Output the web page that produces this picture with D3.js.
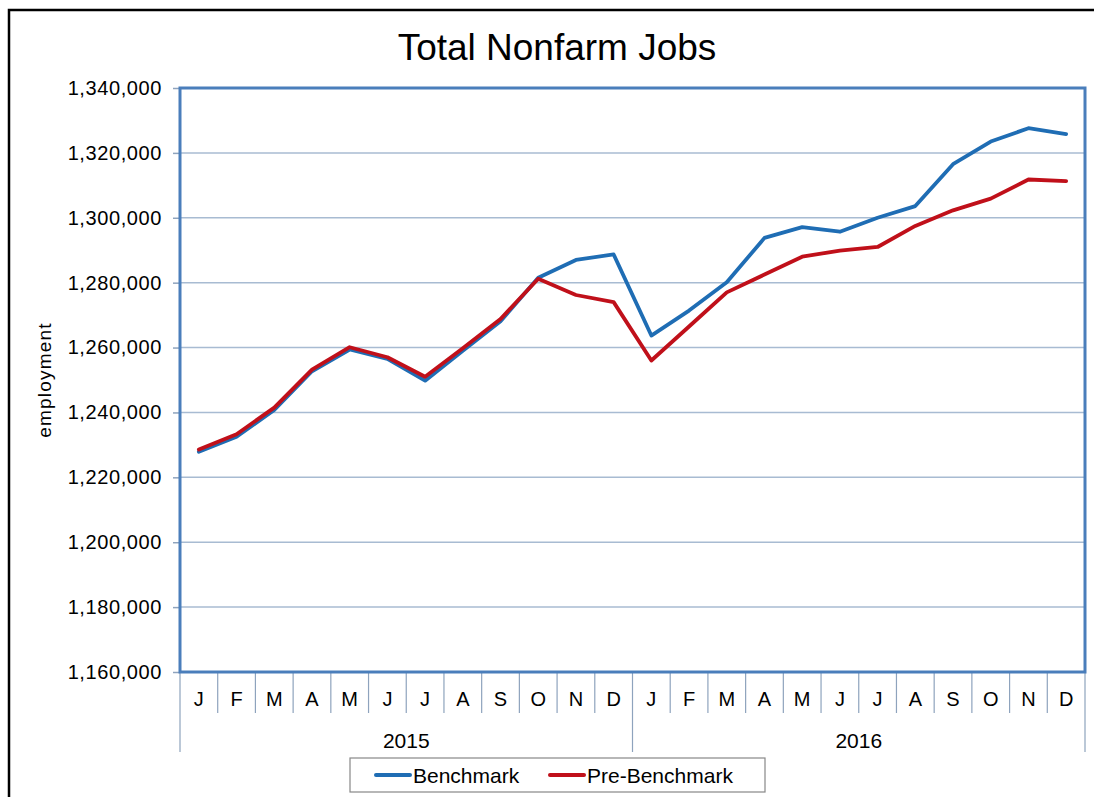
<!DOCTYPE html>
<html><head><meta charset="utf-8">
<script src="https://cdn.jsdelivr.net/npm/d3@7"></script>
<style>body{margin:0;background:#fff}svg{display:block}text{font-family:"Liberation Sans",Arial,sans-serif;fill:#000}</style>
</head><body><svg id="c" width="1094" height="797"></svg>
<script>
const months = ["J","F","M","A","M","J","J","A","S","O","N","D","J","F","M","A","M","J","J","A","S","O","N","D"];
const years = ["2015","2016"];
const benchmark = [1227900,1232500,1240800,1252700,1259400,1256500,1249800,1259000,1268100,1281500,1287000,1288700,
                   1263700,1271400,1280100,1293800,1297100,1295700,1300000,1303600,1316500,1323500,1327600,1325800];
const preBenchmark = [1228600,1233300,1241500,1253200,1260100,1257000,1251000,1259800,1268800,1281200,1276200,1274000,
                      1256000,1266500,1277000,1282500,1288000,1289900,1291000,1297500,1302300,1305900,1311800,1311300];
const yTicks = [1160000,1180000,1200000,1220000,1240000,1260000,1280000,1300000,1320000,1340000];
const seriesNames = ["Benchmark","Pre-Benchmark"];
const seriesColors = ["#1f6db4","#c0101a"];

const svg = d3.select("#c");
const L=180,R=1085,T=88,B=672;
const x = d3.scaleBand().domain(d3.range(months.length)).range([L,R]);
const y = d3.scaleLinear().domain([1160000,1340000]).range([B,T]);

// outer frame
svg.append("path").attr("d","M9,797 V10 H1094").attr("fill","none").attr("stroke","#000").attr("stroke-width",2.5);

// title
svg.append("text").attr("x",557).attr("y",60).attr("text-anchor","middle").attr("font-size",37).text("Total Nonfarm Jobs");

// gridlines
svg.append("g").selectAll("line").data(yTicks).join("line")
  .attr("x1",L).attr("x2",R).attr("y1",d=>y(d)).attr("y2",d=>y(d))
  .attr("stroke","#a8bbd2").attr("stroke-width",1.5);

// y axis
const yAxis = d3.axisLeft(y).tickValues(yTicks).tickFormat(d3.format(",")).tickSize(7).tickPadding(11);
const ya = svg.append("g").attr("transform",`translate(${L},0)`).call(yAxis);
ya.select(".domain").remove();
ya.selectAll(".tick line").attr("stroke","#8ea3bd").attr("stroke-width",1.5);
ya.selectAll(".tick text").attr("font-size",20).attr("letter-spacing","0.6px").attr("fill","#000")
  .style("font-family",'"Liberation Sans",Arial,sans-serif');

// y label
svg.append("text").attr("transform","translate(51,380) rotate(-90)").attr("text-anchor","middle")
  .attr("font-size",19).attr("letter-spacing","1.2px").text("employment");

// x axis months
const xa = svg.append("g");
xa.selectAll("text.m").data(months).join("text").attr("class","m")
  .attr("x",(d,i)=>x(i)+x.bandwidth()/2).attr("y",706).attr("text-anchor","middle")
  .attr("font-size",20).text(d=>d);
xa.selectAll("line.m").data(d3.range(1,months.length).filter(i=>i%12!==0)).join("line").attr("class","m")
  .attr("x1",i=>x(i)).attr("x2",i=>x(i)).attr("y1",B).attr("y2",713)
  .attr("stroke","#8ea3bd").attr("stroke-width",1.2);
const yb = [0,12,24];
xa.selectAll("line.y").data(yb).join("line").attr("class","y")
  .attr("x1",i=>i<24?x(i):R).attr("x2",i=>i<24?x(i):R).attr("y1",B).attr("y2",752)
  .attr("stroke","#8ea3bd").attr("stroke-width",1.2);
xa.selectAll("text.y").data(years).join("text").attr("class","y")
  .attr("x",(d,k)=>(x(k*12)+ (k===0?x(12):R))/2).attr("y",748).attr("text-anchor","middle")
  .attr("font-size",21).text(d=>d);

// lines
const line = d3.line().x((d,i)=>x(i)+x.bandwidth()/2).y(d=>y(d));
[benchmark,preBenchmark].forEach((s,k)=>{
  svg.append("path").datum(s).attr("d",line).attr("fill","none")
    .attr("stroke",seriesColors[k]).attr("stroke-width",3.8).attr("stroke-linejoin","round").attr("stroke-linecap","round");
});

// plot border
svg.append("rect").attr("x",L).attr("y",T).attr("width",R-L).attr("height",B-T)
  .attr("fill","none").attr("stroke","#4a7ebb").attr("stroke-width",3);

// legend
const lg = svg.append("g");
lg.append("rect").attr("x",350).attr("y",758).attr("width",415).attr("height",34).attr("fill","#fff").attr("stroke","#888").attr("stroke-width",1.2);
const lx = [376,550];
seriesNames.forEach((n,k)=>{
  lg.append("line").attr("x1",lx[k]).attr("x2",lx[k]+34).attr("y1",775).attr("y2",775)
    .attr("stroke",seriesColors[k]).attr("stroke-width",4).attr("stroke-linecap","round");
  lg.append("text").attr("x",lx[k]+37).attr("y",783).attr("font-size",21).text(n);
});
</script></body></html>
